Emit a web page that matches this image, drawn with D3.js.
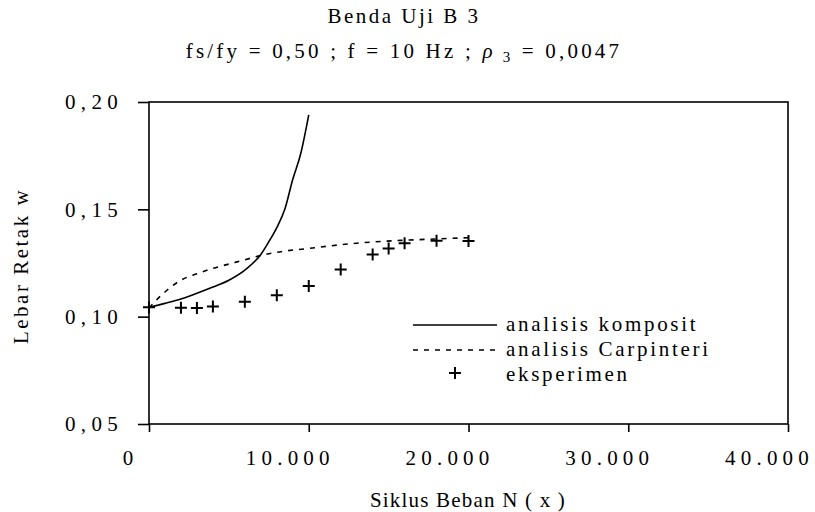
<!DOCTYPE html>
<html>
<head>
<meta charset="utf-8">
<script src="https://d3js.org/d3.v7.min.js"></script>
<style>
  body { margin: 0; background: #fff; }
  text { font-family: "Liberation Serif", "Times New Roman", serif; fill: #000; }
</style>
</head>
<body>
<div id="chart"></div>
<script>
// data
var xTicks = [0, 10000, 20000, 30000, 40000];
var xTickLabels = ['0', '10.000', '20.000', '30.000', '40.000'];
var yTicks = [0.05, 0.10, 0.15, 0.20];
var yTickLabels = ['0,05', '0,10', '0,15', '0,20'];

var kompositN = [0, 1000, 2000, 3000, 4000, 5000, 6000, 7000, 7500, 8000, 8500, 9000, 9500, 10000];
var kompositW = [0.1044, 0.1062, 0.1082, 0.1109, 0.1138, 0.1170, 0.1217, 0.1290, 0.1349, 0.1415, 0.1500, 0.1640, 0.1760, 0.1940];

var carpN = [0, 500, 1000, 2000, 3000, 4000, 5000, 6000, 7000, 8000, 10000, 12000, 14000, 16000, 18000, 20000];
var carpW = [0.1040, 0.1080, 0.1115, 0.1170, 0.1200, 0.1225, 0.1245, 0.1265, 0.1285, 0.1300, 0.1318, 0.1335, 0.1348, 0.1356, 0.1362, 0.1368];

var eksN = [0, 2000, 3000, 4000, 6000, 8000, 10000, 12000, 14000, 15000, 16000, 18000, 20000];
var eksW = [0.1044, 0.1042, 0.1040, 0.1047, 0.1070, 0.1100, 0.1143, 0.1220, 0.1290, 0.1318, 0.1342, 0.1354, 0.1352];

var legendLabels = ['analisis komposit', 'analisis Carpinteri', 'eksperimen'];

var svgWidth = 815;
var svgHeight = 512;
var margin = {top: 102, right: 27, bottom: 88, left: 149};
var width = svgWidth - margin.left - margin.right;
var height = svgHeight - margin.top - margin.bottom;

var svg = d3.select('#chart')
    .append('svg')
    .attr('width', svgWidth)
    .attr('height', svgHeight);

var chartGroup = svg.append('g')
    .attr('transform', `translate(${margin.left},${margin.top})`);

var xScale = d3.scaleLinear().domain([0, 40000]).range([0, width]);
var yScale = d3.scaleLinear().domain([0.05, 0.20]).range([height, 0]);

// frame
chartGroup.append('rect')
    .attr('width', width)
    .attr('height', height)
    .attr('fill', 'none')
    .attr('stroke', '#000')
    .attr('stroke-width', 1.6);

// x axis
var bottomAxis = d3.axisBottom(xScale)
    .tickValues(xTicks)
    .tickSize(8)
    .tickFormat((d, i) => xTickLabels[i]);
var xAxis = chartGroup.append('g')
    .attr('transform', `translate(0,${height})`)
    .call(bottomAxis);
xAxis.select('.domain').remove();
xAxis.selectAll('line').attr('stroke-width', 1.6);
xAxis.selectAll('text')
    .attr('font-family', '"Liberation Serif", serif')
    .attr('font-size', 21)
    .attr('letter-spacing', 5.2)
    .attr('dx', -19)
    .attr('dy', 0)
    .attr('y', 41);

// y axis
var leftAxis = d3.axisLeft(yScale)
    .tickValues(yTicks)
    .tickSize(11)
    .tickFormat((d, i) => yTickLabels[i]);
var yAxis = chartGroup.append('g').call(leftAxis);
yAxis.select('.domain').remove();
yAxis.selectAll('line').attr('stroke-width', 1.6);
yAxis.selectAll('text')
    .attr('font-family', '"Liberation Serif", serif')
    .attr('font-size', 21)
    .attr('letter-spacing', 5.3)
    .attr('x', -26)
    .attr('dy', '0.33em');

// lines
var line = d3.line()
    .x(d => xScale(d[0]))
    .y(d => yScale(d[1]))
    .curve(d3.curveMonotoneX);

chartGroup.append('path')
    .datum(d3.zip(kompositN, kompositW))
    .attr('d', line)
    .attr('fill', 'none')
    .attr('stroke', '#000')
    .attr('stroke-width', 1.6);

chartGroup.append('path')
    .datum(d3.zip(carpN, carpW))
    .attr('d', line)
    .attr('fill', 'none')
    .attr('stroke', '#000')
    .attr('stroke-width', 1.6)
    .attr('stroke-dasharray', '5,6');

// experiment points
var plus = 'M-6,0H6M0,-6V6';
chartGroup.selectAll('.pt')
    .data(d3.zip(eksN, eksW))
    .enter()
    .append('path')
    .attr('class', 'pt')
    .attr('d', plus)
    .attr('transform', d => `translate(${xScale(d[0])},${yScale(d[1])})`)
    .attr('stroke', '#000')
    .attr('stroke-width', 2);

// legend
var legend = svg.append('g').attr('transform', 'translate(413,325)');
legend.append('line')
    .attr('x1', 0).attr('x2', 84).attr('y1', 0).attr('y2', 0)
    .attr('stroke', '#000').attr('stroke-width', 1.6);
legend.append('line')
    .attr('x1', 0).attr('x2', 84).attr('y1', 25).attr('y2', 25)
    .attr('stroke', '#000').attr('stroke-width', 1.6)
    .attr('stroke-dasharray', '5,6');
legend.append('path')
    .attr('d', plus)
    .attr('transform', 'translate(42,48)')
    .attr('stroke', '#000').attr('stroke-width', 2);
legend.selectAll('.lg')
    .data(legendLabels)
    .enter()
    .append('text')
    .attr('class', 'lg')
    .attr('x', 93)
    .attr('y', (d, i) => 6 + i * 25)
    .attr('font-size', 21)
    .attr('letter-spacing', 2.7)
    .text(d => d);

// titles
svg.append('text')
    .attr('x', 404)
    .attr('y', 23)
    .attr('text-anchor', 'middle')
    .attr('font-size', 21)
    .attr('letter-spacing', 2.5)
    .text('Benda Uji B 3');

var sub = svg.append('text')
    .attr('x', 404)
    .attr('y', 58)
    .attr('text-anchor', 'middle')
    .attr('font-size', 21)
    .attr('letter-spacing', 3.2);
sub.append('tspan').text('fs/fy = 0,50 ; f = 10 Hz ; ');
sub.append('tspan').attr('font-style', 'italic').text('ρ');
sub.append('tspan').attr('font-size', 15).attr('dy', 4).text(' 3');
sub.append('tspan').attr('dy', -4).text(' = 0,0047');

// axis titles
svg.append('text')
    .attr('x', 468)
    .attr('y', 507)
    .attr('text-anchor', 'middle')
    .attr('font-size', 21)
    .attr('letter-spacing', 1.2)
    .text('Siklus Beban N ( x )');

svg.append('text')
    .attr('transform', 'translate(28,266) rotate(-90)')
    .attr('text-anchor', 'middle')
    .attr('font-size', 21)
    .attr('letter-spacing', 2.5)
    .text('Lebar Retak w');
</script>
</body>
</html>
